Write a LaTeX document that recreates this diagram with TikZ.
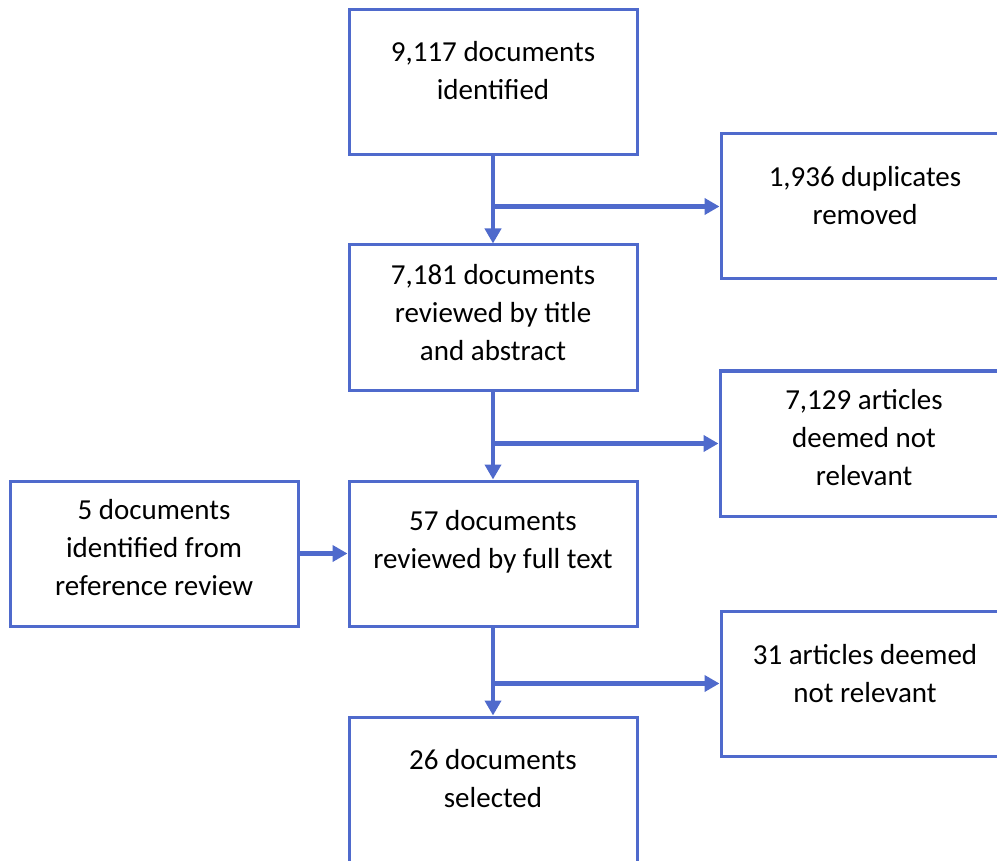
\documentclass[tikz,border=0pt]{standalone}
\usepackage{fontspec}
\setmainfont{Carlito}
\usetikzlibrary{arrows.meta}
\definecolor{bl}{RGB}{79,106,204}
\begin{document}
\begin{tikzpicture}[x=1pt,y=-1pt,
 box/.style={draw=bl,line width=3pt,minimum width=288pt,minimum height=145pt,inner sep=0pt,fill=white},
 txt/.style={font=\fontsize{29}{38}\selectfont,align=center,inner sep=0pt,text=black},
 conn/.style={draw=bl,line width=4.5pt,-{Triangle[length=15pt,width=16pt]}}]
\useasboundingbox (0,0) rectangle (997,861);
\clip (0,0) rectangle (997,861);
\fill[white] (0,0) rectangle (997,861);
% boxes
\node[box] (b1) at (493,82.5) {};
\node[box] (b2) at (493,317.5) {};
\node[box] (b3) at (493,553.5) {};
\node[box] (b4) at (493,789.5) {};
\node[box] (r1) at (865,206.5) {};
\node[box] (r2) at (864,443.5) {};
\node[box] (r3) at (865,683.5) {};
\node[box] (l1) at (154,553.5) {};
% texts
\node[txt] (t1) at (493,71) {9,117 documents\\identified};
\node[txt] (t2) at (493,313) {7,181 documents\\reviewed by title\\and abstract};
\node[txt] (t3) at (493,542) {57 documents\\reviewed by full text};
\node[txt] (t4) at (493,779) {26 documents\\selected};
\node[txt] (tr1) at (865,195.5) {1,936 duplicates\\removed};
\node[txt] (tr2) at (864,438) {7,129 articles\\deemed not\\relevant};
\node[txt] (tr3) at (865,674) {31 articles deemed\\not relevant};
\node[txt] (tl1) at (154,548) {5 documents\\identified from\\reference review};
% connectors
\draw[conn] (b1.south) -- (b2.north);
\draw[conn] (b1.south |- r1.west) -- (r1.west);
\draw[conn] (b2.south) -- (b3.north);
\draw[conn] (b2.south |- r2.west) -- (r2.west);
\draw[conn] (b3.south) -- (b4.north);
\draw[conn] (b3.south |- r3.west) -- (r3.west);
\draw[conn] (l1.east) -- (b3.west);
\end{tikzpicture}
\end{document}
